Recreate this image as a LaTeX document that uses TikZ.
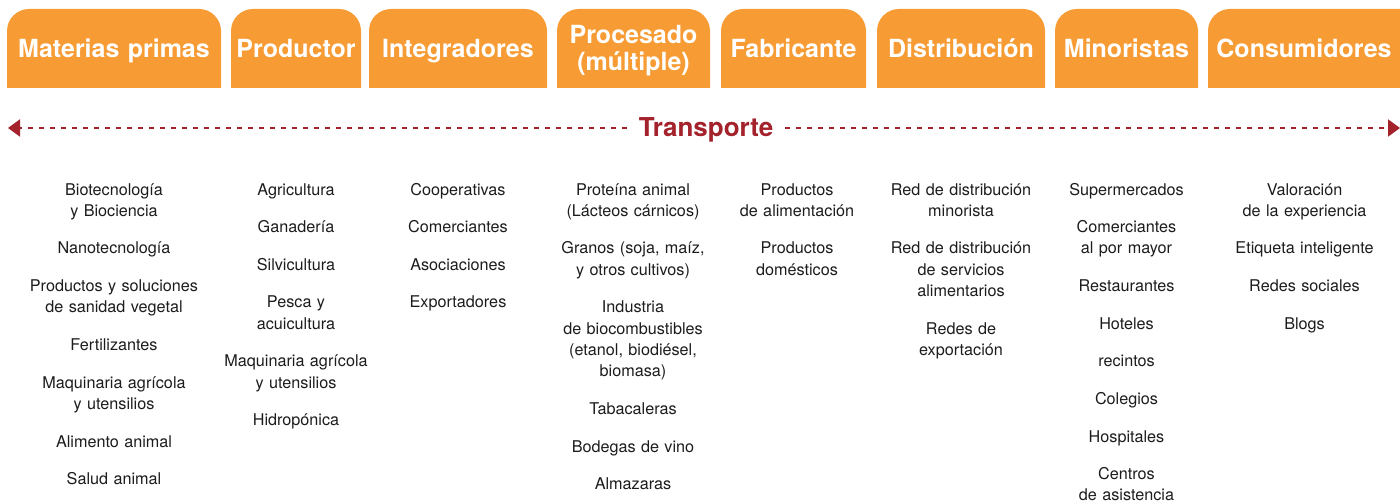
\documentclass[tikz,border=0pt]{standalone}
\usepackage{fontspec}
\setmainfont{TeX Gyre Heros}
\usepackage{tikz}
\usetikzlibrary{positioning}
\usetikzlibrary{arrows.meta}
\usepackage{xcolor}

\definecolor{tabcol}{HTML}{F79C34}
\definecolor{transcol}{HTML}{A3222B}
\definecolor{itemcol}{HTML}{1C1C1C}

\newcommand{\tabstrut}{\rule[-7pt]{0pt}{25pt}}
\newcommand{\itemstrut}{\rule[-6.4pt]{0pt}{21.3pt}}

\begin{document}
\begin{tikzpicture}[x=1pt, y=-1pt,
  tabtext/.style={text=white, font=\fontsize{25}{25}\selectfont\bfseries, align=center, inner sep=0pt,
    text width=230pt, execute at begin node=\tabstrut, execute at end node=\tabstrut},
  item/.style={text=itemcol, font=\fontsize{16.2}{21.3}\selectfont, align=center, inner sep=0pt,
    text width=190pt, execute at begin node=\itemstrut, execute at end node=\itemstrut},
  transline/.style={transcol, line width=2pt, dash pattern=on 4.5pt off 6.5pt, -{Triangle[length=12pt, width=17pt]}},
  node distance=15.9pt]

 \useasboundingbox (0,0) rectangle (1400,502);

\foreach \xa/\xb/\xc/\nm/\txt in {7/221/114/mp/Materias primas, 231/361/296/prod/Productor, 369/547/458/integ/Integradores,
  557/710/633.5/proc/{Procesado\\(múltiple)}, 721/866/793.5/fab/Fabricante, 877/1045/961/dist/Distribución,
  1055/1198/1126.5/mino/Minoristas, 1208/1425/1304/cons/Consumidores}
{
\fill[tabcol] (\xa,88) -- (\xa,31) arc[start angle=180, end angle=90, radius=22pt] -- (\xb-22,9)
  arc[start angle=90, end angle=0, radius=22pt] -- (\xb,88) -- cycle;
\node[tabtext] (\nm) at (\xc,51.5) {\txt};
}

\coordinate (tl) at (8,128);
\coordinate (tr) at (1400,128);
\node[anchor=base, font=\fontsize{26}{26}\selectfont\bfseries, text=transcol, inner xsep=12pt] (transp) at (706,137) {Transporte};
\draw[transline] (transp.west |- tl) -- (tl);
\draw[transline] (transp.east |- tr) -- (tr);


\node[item, anchor=north] (mp1) at (114,180) {Biotecnología\\y Biociencia};
\node[item, below=of mp1] (mp2) {Nanotecnología};
\node[item, below=of mp2] (mp3) {Productos y soluciones\\de sanidad vegetal};
\node[item, below=of mp3] (mp4) {Fertilizantes};
\node[item, below=of mp4] (mp5) {Maquinaria agrícola\\y utensilios};
\node[item, below=of mp5] (mp6) {Alimento animal};
\node[item, below=of mp6] (mp7) {Salud animal};

\node[item, anchor=north] (prod1) at (296,180) {Agricultura};
\node[item, below=of prod1] (prod2) {Ganadería};
\node[item, below=of prod2] (prod3) {Silvicultura};
\node[item, below=of prod3] (prod4) {Pesca y\\acuicultura};
\node[item, below=of prod4] (prod5) {Maquinaria agrícola\\y utensilios};
\node[item, below=of prod5] (prod6) {Hidropónica};

\node[item, anchor=north] (integ1) at (458,180) {Cooperativas};
\node[item, below=of integ1] (integ2) {Comerciantes};
\node[item, below=of integ2] (integ3) {Asociaciones};
\node[item, below=of integ3] (integ4) {Exportadores};

\node[item, anchor=north] (proc1) at (633,180) {Proteína animal\\(Lácteos cárnicos)};
\node[item, below=of proc1] (proc2) {Granos (soja, maíz,\\y otros cultivos)};
\node[item, below=of proc2] (proc3) {Industria\\de biocombustibles\\(etanol, biodiésel,\\biomasa)};
\node[item, below=of proc3] (proc4) {Tabacaleras};
\node[item, below=of proc4] (proc5) {Bodegas de vino};
\node[item, below=of proc5] (proc6) {Almazaras};

\node[item, anchor=north] (fab1) at (797,180) {Productos\\de alimentación};
\node[item, below=of fab1] (fab2) {Productos\\domésticos};

\node[item, anchor=north] (dist1) at (961,180) {Red de distribución\\minorista};
\node[item, below=of dist1] (dist2) {Red de distribución\\de servicios\\alimentarios};
\node[item, below=of dist2] (dist3) {Redes de\\exportación};

\node[item, anchor=north] (mino1) at (1126.5,180) {Supermercados};
\node[item, below=of mino1] (mino2) {Comerciantes\\al por mayor};
\node[item, below=of mino2] (mino3) {Restaurantes};
\node[item, below=of mino3] (mino4) {Hoteles};
\node[item, below=of mino4] (mino5) {recintos};
\node[item, below=of mino5] (mino6) {Colegios};
\node[item, below=of mino6] (mino7) {Hospitales};
\node[item, below=of mino7] (mino8) {Centros\\de asistencia};

\node[item, anchor=north] (cons1) at (1304.5,180) {Valoración\\de la experiencia};
\node[item, below=of cons1] (cons2) {Etiqueta inteligente};
\node[item, below=of cons2] (cons3) {Redes sociales};
\node[item, below=of cons3] (cons4) {Blogs};

\end{tikzpicture}
\end{document}
